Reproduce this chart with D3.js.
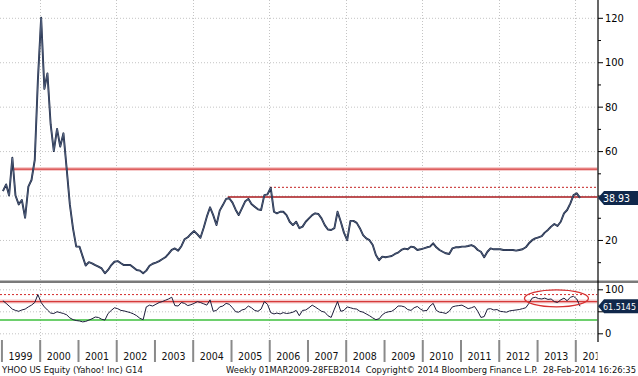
<!DOCTYPE html>
<html>
<head>
<meta charset="utf-8">
<script src="https://cdn.jsdelivr.net/npm/d3@7"></script>
<style>
body { margin: 0; background: #fff; }
text { font-family: "Liberation Sans Narrow", "Arial Narrow", "DejaVu Sans Condensed", sans-serif; }
</style>
</head>
<body>
<div id="chart"></div>
<script>
// monthly closes, Jan 1999 .. Feb 2014
var priceMonthly = [
  42, 45, 40, 57, 40, 36, 38, 30, 44, 47, 56, 92,
  120, 88, 95, 72, 60, 70, 62, 68, 52, 36, 25, 17,
  17, 12.5, 8.5, 10, 9.5, 8.7, 8, 7.2, 5, 6.5, 8.7, 10.2,
  10.5, 9.5, 8.7, 8.7, 8.7, 7.6, 6.5, 6.2, 5, 6.2, 8.4, 9.3,
  9.8, 10.5, 11.3, 12.2, 13.7, 15.5, 16.2, 15.2, 17.2, 20.3, 21.2, 22.7,
  24, 22.5, 21, 25.5, 30.5, 34.7, 31.2, 26.7, 33.2, 35.7, 38.5, 38.8,
  36.8, 33.5, 31.2, 34.2, 37.3, 38.5, 36.2, 35, 33.8, 33.5, 40.2, 40.5,
  43.5, 32.7, 32, 32.7, 32.7, 31.2, 28.2, 26.7, 28.2, 25.3, 26, 28.2,
  29.7, 31.2, 32, 31.7, 29.7, 26.7, 24.7, 24.5, 25.3, 32.7, 28.2, 23.3,
  19.9, 28.6, 28.6, 27.7, 25.3, 22.2, 20.7, 19.9, 17.7, 13.2, 10.9, 12.5,
  12.2, 12.5, 12.8, 13.7, 14.3, 15.5, 16.1, 15.8, 17, 16.7, 15.5, 15.8,
  16.2, 16.7, 17, 18.5, 16.7, 15.5, 14.7, 14, 13.7, 16.2, 16.7, 16.7,
  17, 17, 17.3, 17.7, 17, 15.5, 14.7, 12.2, 14.7, 16.2, 15.8, 15.8,
  15.8, 15.5, 15.5, 15.5, 15.5, 15.2, 15.5, 15.8, 16.7, 18.5, 19.9, 20.7,
  21.2, 21.7, 23.3, 24.5, 26, 27.2, 26.3, 28.2, 32, 33.5, 36.5, 40.2,
  41, 38.93
];

// lower panel oscillator, same months
var rsiMonthly = [
  74, 68, 62, 55, 52, 50, 53, 55, 60, 64, 70, 88,
  70, 60, 53, 46, 45, 49, 47, 45, 42, 35, 31, 29,
  28, 26, 27, 30, 33, 37, 36, 32, 30, 45, 52, 58,
  56, 52, 51, 49, 47, 44, 40, 34, 31, 60, 64, 62,
  66, 70, 72, 75, 78, 82, 63, 62, 70, 68, 63, 65,
  68, 72, 70, 67, 64, 76, 50, 52, 60, 62, 68, 66,
  58, 49, 48, 53, 55, 62, 58, 52, 50, 55, 72, 66,
  47, 44, 46, 44, 47, 45, 46, 48, 52, 40, 52, 53,
  58, 64, 60, 55, 50, 48, 40, 36, 55, 72, 50, 52,
  60, 58, 56, 55, 50, 48, 44, 40, 35, 31, 33, 42,
  47, 49, 50, 55, 62, 62, 60, 54, 52, 58, 61, 55,
  51, 52, 62, 68, 52, 48, 47, 45, 50, 60, 62, 63,
  64, 60, 56, 58, 61, 50, 36, 38, 55, 56, 53, 54,
  50, 49, 48, 51, 52, 53, 54, 56, 58, 68, 80, 82,
  79, 78, 80, 77, 78, 72, 70, 76, 80, 74, 82, 84,
  78, 61.5145
];

var years = [1999, 2000, 2001, 2002, 2003, 2004, 2005, 2006, 2007, 2008, 2009, 2010, 2011, 2012, 2013, 2014];
var gridYears = [2000, 2002, 2004, 2006, 2008, 2010, 2012, 2014];
var priceTicks = [20, 40, 60, 80, 100, 120];
var priceLabels = [20, 60, 80, 100, 120];   // 40 sits under the last-price flag
var priceMinor = [10, 30, 50, 70, 90, 110];
var rsiTicks = [0, 50, 100];
var rsiLabels = [0, 100];                   // 50 sits under the flag

// horizontal levels drawn on the price panel
var levelValues = [51.9, 43.7, 39.3];
var levelStarts = ["1999-04-10", "2006-01-08", "2004-12-01"];
var rsiLevels = [88, 72, 30];
var lastPrice = 38.93;
var lastRsi = 61.5145;
var circleCenter = ["2013-07-05", 79.5];

var svgWidth = 638, svgHeight = 376;
var plotRight = 597.5;
var mainBottom = 281;

var svg = d3.select("#chart").append("svg")
  .attr("width", svgWidth)
  .attr("height", svgHeight)
  .style("display", "block");

var parse = d3.timeParse("%Y-%m-%d");
var dates = priceMonthly.map(function(d, i) { return new Date(1999, i, 15); });

var x = d3.scaleTime()
  .domain([new Date(1999, 0, 1), new Date(2014, 0, 1)])
  .range([1.44, 575.3]);
var yMain = d3.scaleLinear().domain([0, 120]).range([284.4, 17.8]);
var yRsi = d3.scaleLinear().domain([0, 100]).range([333.3, 289.3]);

var defs = svg.append("defs");
defs.append("clipPath").attr("id", "clipMain")
  .append("rect").attr("x", 0).attr("y", 0).attr("width", plotRight).attr("height", mainBottom);
defs.append("clipPath").attr("id", "clipRsi")
  .append("rect").attr("x", 0).attr("y", 284).attr("width", plotRight).attr("height", 56);
defs.append("clipPath").attr("id", "clipAxis")
  .append("rect").attr("x", 0).attr("y", 330).attr("width", plotRight).attr("height", 40);

// grid: main panel
var gMain = svg.append("g").attr("clip-path", "url(#clipMain)");
gMain.selectAll(".hgrid").data(priceTicks).enter().append("line")
  .attr("x1", 0).attr("x2", plotRight)
  .attr("y1", function(d) { return yMain(d) + 0.5; })
  .attr("y2", function(d) { return yMain(d) + 0.5; })
  .attr("stroke", "#c4c4c4").attr("stroke-dasharray", "1,2");
gMain.selectAll(".vgrid").data(gridYears).enter().append("line")
  .attr("x1", function(d) { return Math.round(x(new Date(d, 0, 1))) + 0.5; })
  .attr("x2", function(d) { return Math.round(x(new Date(d, 0, 1))) + 0.5; })
  .attr("y1", 0).attr("y2", mainBottom)
  .attr("stroke", "#c4c4c4").attr("stroke-dasharray", "1,2");

// levels
gMain.append("line")
  .attr("x1", x(parse(levelStarts[0]))).attr("x2", plotRight)
  .attr("y1", yMain(levelValues[0])).attr("y2", yMain(levelValues[0]))
  .attr("stroke", "#f6cccc").attr("stroke-width", 4);
gMain.append("line")
  .attr("x1", x(parse(levelStarts[0]))).attr("x2", plotRight)
  .attr("y1", yMain(levelValues[0])).attr("y2", yMain(levelValues[0]))
  .attr("stroke", "#d63a3a").attr("stroke-width", 1.2);
gMain.append("line")
  .attr("x1", x(parse(levelStarts[1]))).attr("x2", plotRight)
  .attr("y1", yMain(levelValues[1])).attr("y2", yMain(levelValues[1]))
  .attr("stroke", "#c42020").attr("stroke-width", 1).attr("stroke-dasharray", "2,2");
gMain.append("line")
  .attr("x1", x(parse(levelStarts[2]))).attr("x2", plotRight)
  .attr("y1", yMain(levelValues[2])).attr("y2", yMain(levelValues[2]))
  .attr("stroke", "#a8191c").attr("stroke-width", 1.5);

// price line
var priceLine = d3.line()
  .x(function(d, i) { return x(dates[i]); })
  .y(function(d) { return yMain(d); });
gMain.append("path").datum(priceMonthly)
  .attr("d", priceLine)
  .attr("fill", "none")
  .attr("stroke", "#16223f")
  .attr("stroke-width", 1.9)
  .attr("stroke-linejoin", "round");
gMain.append("path").datum(priceMonthly)
  .attr("d", priceLine)
  .attr("fill", "none")
  .attr("stroke", "#8594b0")
  .attr("stroke-width", 0.5)
  .attr("stroke-linejoin", "round");

// lower panel
var gRsi = svg.append("g").attr("clip-path", "url(#clipRsi)");
gRsi.selectAll(".hgrid").data(rsiTicks).enter().append("line")
  .attr("x1", 0).attr("x2", plotRight)
  .attr("y1", function(d) { return yRsi(d) + 0.5; })
  .attr("y2", function(d) { return yRsi(d) + 0.5; })
  .attr("stroke", "#c4c4c4").attr("stroke-dasharray", "1,2");
gRsi.selectAll(".vgrid").data(gridYears).enter().append("line")
  .attr("x1", function(d) { return Math.round(x(new Date(d, 0, 1))) + 0.5; })
  .attr("x2", function(d) { return Math.round(x(new Date(d, 0, 1))) + 0.5; })
  .attr("y1", 284).attr("y2", 340)
  .attr("stroke", "#c4c4c4").attr("stroke-dasharray", "1,2");

gRsi.append("line")
  .attr("x1", 0).attr("x2", plotRight)
  .attr("y1", yRsi(rsiLevels[0])).attr("y2", yRsi(rsiLevels[0]))
  .attr("stroke", "#d42a2a").attr("stroke-dasharray", "2,2");
gRsi.append("line")
  .attr("x1", 0).attr("x2", plotRight)
  .attr("y1", yRsi(rsiLevels[1])).attr("y2", yRsi(rsiLevels[1]))
  .attr("stroke", "#f6cccc").attr("stroke-width", 4);
gRsi.append("line")
  .attr("x1", 0).attr("x2", plotRight)
  .attr("y1", yRsi(rsiLevels[1])).attr("y2", yRsi(rsiLevels[1]))
  .attr("stroke", "#d63a3a").attr("stroke-width", 1.2);
gRsi.append("line")
  .attr("x1", 0).attr("x2", plotRight)
  .attr("y1", yRsi(rsiLevels[2])).attr("y2", yRsi(rsiLevels[2]))
  .attr("stroke", "#3cbf3c").attr("stroke-width", 1.5);

var rsiLine = d3.line()
  .x(function(d, i) { return x(dates[i]); })
  .y(function(d) { return yRsi(d); });
gRsi.append("path").datum(rsiMonthly)
  .attr("d", rsiLine)
  .attr("fill", "none")
  .attr("stroke", "#1c1c3a")
  .attr("stroke-width", 1);

gRsi.append("ellipse")
  .attr("cx", x(parse(circleCenter[0])))
  .attr("cy", yRsi(circleCenter[1]))
  .attr("rx", 32).attr("ry", 8.5)
  .attr("fill", "none")
  .attr("stroke", "#d63030")
  .attr("stroke-width", 1.3);

// separator between panels
svg.append("rect")
  .attr("x", 0).attr("y", 280.5).attr("width", svgWidth).attr("height", 2.5)
  .attr("fill", "#7a7a7a");

// right axis
svg.append("line")
  .attr("x1", plotRight + 0.5).attr("x2", plotRight + 0.5)
  .attr("y1", 0).attr("y2", 342)
  .attr("stroke", "#000").attr("stroke-width", 1.2);

function styleAxis(g) {
  g.select(".domain").remove();
  g.selectAll("line").attr("stroke", "#000");
  g.selectAll("text").attr("fill", "#000").style("font-size", "11px");
}

svg.append("g")
  .attr("transform", "translate(" + (plotRight + 0.5) + ",0)")
  .call(d3.axisRight(yMain).tickValues(priceTicks).tickSize(5)
    .tickPadding(2).tickFormat(function(d) { return priceLabels.indexOf(d) >= 0 ? d : null; }))
  .call(styleAxis);
svg.append("g")
  .attr("transform", "translate(" + (plotRight + 0.5) + ",0)")
  .call(d3.axisRight(yMain).tickValues(priceMinor).tickSize(3).tickFormat(null))
  .call(function(g) { g.selectAll("text").remove(); })
  .call(styleAxis);
svg.append("g")
  .attr("transform", "translate(" + (plotRight + 0.5) + ",0)")
  .call(d3.axisRight(yRsi).tickValues(rsiTicks).tickSize(5)
    .tickPadding(2).tickFormat(function(d) { return rsiLabels.indexOf(d) >= 0 ? d : null; }))
  .call(styleAxis);
svg.selectAll(".tick text").filter(function() { return this.textContent === ""; }).remove();

// value flags
function flag(yPos, label) {
  var h = 14, x0 = plotRight + 0.5;
  svg.append("path")
    .attr("d", "M" + x0 + "," + yPos +
      " L" + (x0 + 6) + "," + (yPos - h / 2) +
      " L" + svgWidth + "," + (yPos - h / 2) +
      " L" + svgWidth + "," + (yPos + h / 2) +
      " L" + (x0 + 6) + "," + (yPos + h / 2) + " Z")
    .attr("fill", "#10284b");
  var t = svg.append("text")
    .attr("x", x0 + 5).attr("y", yPos + 4)
    .attr("fill", "#fff")
    .style("font-size", "10.5px")
    .text(label);
  // shrink the font until the label fits inside the flag
  var room = svgWidth - 2 - (x0 + 5);
  var w = t.node().getComputedTextLength();
  if (w > room) t.style("font-size", (10.5 * room / w).toFixed(2) + "px");
}
flag(yMain(lastPrice), d3.format(".2f")(lastPrice));
flag(yRsi(lastRsi), String(lastRsi));

// time axis: year separators and labels
var gX = svg.append("g").attr("clip-path", "url(#clipAxis)");
gX.append("g")
  .attr("transform", "translate(0,340)")
  .call(d3.axisBottom(x)
    .tickValues(years.map(function(d) { return new Date(d, 0, 1); }))
    .tickSize(22).tickFormat(null))
  .call(function(g) {
    g.select(".domain").remove();
    g.selectAll("text").remove();
    g.selectAll("line").attr("stroke", "#8a8a8a").attr("stroke-width", 2);
  });
gX.selectAll(".yr").data(years).enter().append("text")
  .attr("x", function(d) { return (x(new Date(d, 0, 1)) + x(new Date(d + 1, 0, 1))) / 2; })
  .attr("y", 360)
  .attr("text-anchor", "middle")
  .attr("fill", "#111")
  .style("font-size", "10.5px")
  .text(function(d) { return d; });

// footer
svg.append("text")
  .attr("x", 2).attr("y", 373)
  .attr("fill", "#111")
  .style("font-size", "9.4px")
  .text("YHOO US Equity (Yahoo! Inc) G14");
svg.append("text")
  .attr("x", 636).attr("y", 373)
  .attr("text-anchor", "end")
  .attr("fill", "#111")
  .style("font-size", "9.3px")
  .style("white-space", "pre")
  .text("Weekly 01MAR2009-28FEB2014  Copyright\u00a9 2014 Bloomberg Finance L.P.  28-Feb-2014 16:26:35");
</script>
</body>
</html>
